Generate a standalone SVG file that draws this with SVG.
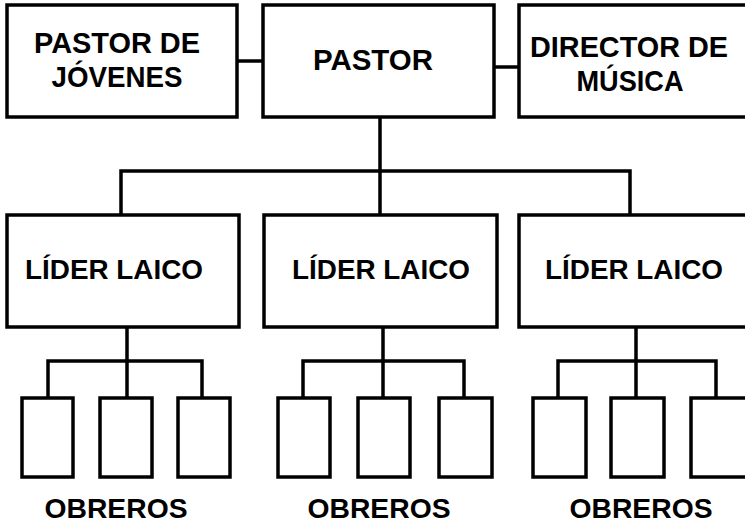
<svg xmlns="http://www.w3.org/2000/svg" width="745" height="524" viewBox="0 0 745 524">
<style>
.box{fill:#fff;stroke:#000;stroke-width:3.5}
.ln{fill:none;stroke:#000;stroke-width:3.5}
.t{font-family:"Liberation Sans",Arial,sans-serif;font-weight:bold;font-size:29.5px;fill:#000;text-anchor:middle}
.l{font-size:27.5px}
.o{font-size:28.5px}
</style>
<rect width="745" height="524" fill="#fff"/>
<g id="connectors">
<line class="ln" x1="237" y1="61" x2="263" y2="61"/>
<line class="ln" x1="494" y1="67" x2="519" y2="67"/>
<path class="ln" d="M380 117V215M121 215V171H630V215"/>
<path class="ln" d="M127 327V398M48 398V361H202V398"/>
<path class="ln" d="M383 327V398M303 398V361H464V398"/>
<path class="ln" d="M636 327V398M558 398V361H716V398"/>
</g>
<g id="pastor-jovenes"><rect class="box" x="7" y="5" width="230" height="112"/><text class="t" x="117" y="53" textLength="166" lengthAdjust="spacingAndGlyphs">PASTOR DE</text><text class="t" x="117" y="87" textLength="131" lengthAdjust="spacingAndGlyphs">JÓVENES</text></g>
<g id="pastor"><rect class="box" x="263" y="5" width="231" height="112"/><text class="t" x="373" y="70" textLength="120" lengthAdjust="spacingAndGlyphs">PASTOR</text></g>
<g id="director-musica"><rect class="box" x="519" y="5" width="240" height="112"/><text class="t" x="629" y="57" textLength="198" lengthAdjust="spacingAndGlyphs">DIRECTOR DE</text><text class="t" x="630" y="91" textLength="107" lengthAdjust="spacingAndGlyphs">MÚSICA</text></g>
<g id="lider1"><rect class="box" x="7" y="215" width="232" height="112"/><text class="t l" x="114" y="279" textLength="178" lengthAdjust="spacingAndGlyphs">LÍDER LAICO</text></g>
<g id="lider2"><rect class="box" x="264" y="215" width="233" height="112"/><text class="t l" x="381" y="279" textLength="178" lengthAdjust="spacingAndGlyphs">LÍDER LAICO</text></g>
<g id="lider3"><rect class="box" x="519" y="215" width="240" height="112"/><text class="t l" x="634" y="279" textLength="178" lengthAdjust="spacingAndGlyphs">LÍDER LAICO</text></g>
<g id="obrero1a"><rect class="box" x="22" y="398" width="51" height="79"/></g>
<g id="obrero1b"><rect class="box" x="100" y="398" width="52" height="79"/></g>
<g id="obrero1c"><rect class="box" x="178" y="398" width="52" height="79"/></g>
<g id="obrero2a"><rect class="box" x="278" y="398" width="52" height="79"/></g>
<g id="obrero2b"><rect class="box" x="358" y="398" width="52" height="79"/></g>
<g id="obrero2c"><rect class="box" x="439" y="398" width="53" height="79"/></g>
<g id="obrero3a"><rect class="box" x="533" y="398" width="53" height="79"/></g>
<g id="obrero3b"><rect class="box" x="611" y="398" width="53" height="79"/></g>
<g id="obrero3c"><rect class="box" x="691" y="398" width="60" height="79"/></g>
<g id="label-obreros"><text class="t o" x="116" y="518" textLength="143" lengthAdjust="spacingAndGlyphs">OBREROS</text><text class="t o" x="379" y="518" textLength="143" lengthAdjust="spacingAndGlyphs">OBREROS</text><text class="t o" x="641" y="518" textLength="143" lengthAdjust="spacingAndGlyphs">OBREROS</text></g>
</svg>
